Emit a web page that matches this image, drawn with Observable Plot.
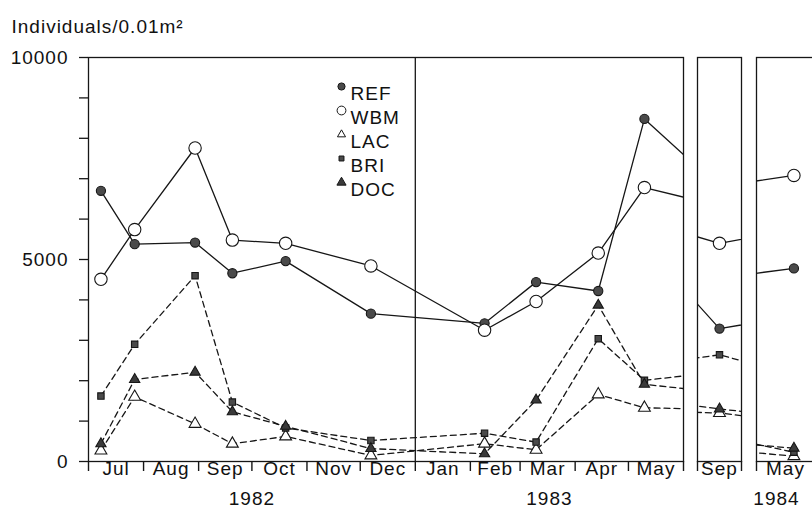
<!DOCTYPE html>
<html><head><meta charset="utf-8">
<script src="https://cdn.jsdelivr.net/npm/d3@7"></script>
<script src="https://cdn.jsdelivr.net/npm/@observablehq/plot@0.6"></script>
<style>
html,body{margin:0;padding:0;background:#fff;overflow:hidden;}
#chart{position:relative;width:812px;height:520px;overflow:hidden;background:#fff;}
#chart svg{position:absolute;top:0;overflow:visible;}
</style></head><body><div id="chart"></div>
<script>
// ---- data ----
const seriesNames = ["REF", "WBM", "LAC", "BRI", "DOC"];
const sampleDates = ["1982-07-08","1982-07-27","1982-08-30","1982-09-20","1982-10-20","1982-12-07",
                     "1983-02-09","1983-03-10","1983-04-14","1983-05-10","1983-09-16","1984-05-21"];
const refValues = [6700, 5380, 5420, 4660, 4960, 3660, 3420, 4440, 4220, 8480, 3290, 4780];
const wbmValues = [4510, 5740, 7760, 5480, 5400, 4840, 3250, 3960, 5160, 6780, 5400, 7080];
const lacValues = [270, 1600, 930, 440, 620, 150, 440, 290, 1660, 1330, 1200, 130];
const briValues = [1620, 2900, 4600, 1470, 830, 520, 700, 480, 3040, 2010, 2640, 230];
const docValues = [440, 2030, 2210, 1230, 870, 320, 190, 1520, 3870, 1910, 1300, 330];
const mainMonths = ["Jul","Aug","Sep","Oct","Nov","Dec","Jan","Feb","Mar","Apr","May"];
const sepMonths = ["Sep"];
const mayMonths = ["May"];
const yearLabels = ["1982", "1983", "1984"];
const yTickValues = [0,1000,2000,3000,4000,5000,6000,7000,8000,9000,10000];
const yTickLabels = ["0", "5000", "10000"];
const yTitle = "Individuals/0.01m²";

// ---- build ----
const valuesBySeries = {REF: refValues, WBM: wbmValues, LAC: lacValues, BRI: briValues, DOC: docValues};
const rows = [];
for (const s of seriesNames) valuesBySeries[s].forEach((v, i) => rows.push({series: s, date: new Date(sampleDates[i]), value: v}));

const INK = "#161616";
const styles = {
  REF: {symbol: "circle", fill: "#4a4a4a", r: 4.6, lr: 3.6, dash: null},
  WBM: {symbol: "circle", fill: "white", r: 6.2, lr: 4.4, dash: null},
  LAC: {symbol: "triangle", fill: "white", r: 4.4, lr: 3.0, dash: "6,4"},
  BRI: {symbol: "square", fill: "#4a4a4a", r: 3.6, lr: 2.8, dash: "6,4"},
  DOC: {symbol: "triangle", fill: "#3a3a3a", r: 3.8, lr: 3.4, dash: "6,4"}
};
const FONT = "'Liberation Sans', Arial, Helvetica, sans-serif";
const FS = 19;
const H = 520, MT = 57, MB = 59, FRAME_H = H - MT - MB;

const utc = (y, m, d = 1) => new Date(Date.UTC(y, m, d));
const mid = (a, b) => new Date((+a + +b) / 2);

function panel({left, mL, mR, plotW, start, end, months, years = [], yAxis, extra = []}) {
  const monthStarts = d3.utcMonth.range(start, d3.utcDay.offset(end, 1));
  const monthMids = monthStarts.slice(0, -1).map((d, i) => mid(d, monthStarts[i + 1]));
  const marks = [Plot.frame({stroke: INK, strokeWidth: 1.3})];
  marks.push(...extra);
  for (const s of seriesNames) {
    marks.push(Plot.line(rows.filter(d => d.series === s), {
      x: "date", y: "value", stroke: INK, strokeWidth: 1.3,
      strokeDasharray: styles[s].dash, clip: true
    }));
  }
  for (const s of seriesNames) {
    const st = styles[s];
    marks.push(Plot.dot(rows.filter(d => d.series === s), {
      x: "date", y: "value", symbol: st.symbol, r: st.r, fill: st.fill,
      stroke: INK, strokeWidth: 1.1, clip: true
    }));
  }
  // month boundary ticks below the frame
  marks.push(Plot.ruleX(monthStarts, {x: d => d, stroke: INK, strokeWidth: 1.4, insetTop: FRAME_H, insetBottom: -10}));
  // month labels
  marks.push(Plot.text(months, {x: (d, i) => monthMids[i], frameAnchor: "bottom", dy: 13, fontSize: FS, fill: "#111"}));
  for (const yr of years) {
    marks.push(Plot.text([yr.label], {x: () => yr.at, frameAnchor: "bottom", dx: yr.dx || 0, dy: 43, fontSize: FS, fill: "#111"}));
  }
  if (yAxis) {
    marks.push(Plot.ruleY(yTickValues, {y: d => d, stroke: INK, strokeWidth: 1.3, insetLeft: -9, insetRight: plotW}));
    marks.push(Plot.text(yTickLabels, {y: d => +d, frameAnchor: "left", dx: -20, textAnchor: "end", fontSize: FS, fill: "#111"}));
  }
  const svg = Plot.plot({
    width: mL + plotW + mR, height: H,
    marginLeft: mL, marginRight: mR, marginTop: MT, marginBottom: MB,
    style: {fontFamily: FONT, fontSize: FS + "px", background: "transparent", color: INK, letterSpacing: "1px"},
    x: {type: "utc", domain: [start, end], axis: null},
    y: {domain: [0, 10000], axis: null},
    marks
  });
  svg.style.left = left + "px";
  return svg;
}

const chart = document.getElementById("chart");

// legend, title and year divider inside the main panel (offsets from the frame corner)
const extraMain = [];
seriesNames.forEach((s, i) => {
  const st = styles[s];
  extraMain.push(Plot.dot([s], {frameAnchor: "top-left", dx: 253, dy: 29 + i * 24,
    symbol: st.symbol, r: st.lr, fill: st.fill, stroke: INK, strokeWidth: 1}));
  extraMain.push(Plot.text([s], {frameAnchor: "top-left", dx: 262, dy: 29 + i * 24,
    textAnchor: "start", fontSize: FS, fill: "#111"}));
});
extraMain.push(Plot.text([yTitle], {frameAnchor: "top-left", dx: -77, dy: -38, textAnchor: "start", fontSize: 19, fill: "#111"}));
extraMain.push(Plot.ruleX([utc(1983, 0)], {x: d => d, stroke: INK, strokeWidth: 1.3}));

chart.append(panel({
  left: 0, mL: 88, mR: 8, plotW: 595,
  start: utc(1982, 6), end: utc(1983, 5),
  months: mainMonths, yAxis: true, extra: extraMain,
  years: [
    {label: yearLabels[0], at: mid(utc(1982, 6), utc(1983, 0))},
    {label: yearLabels[1], at: mid(utc(1983, 0), utc(1983, 5))}
  ]
}));
chart.append(panel({
  left: 693, mL: 4, mR: 4, plotW: 44,
  start: utc(1983, 8), end: utc(1983, 9),
  months: sepMonths
}));
chart.append(panel({
  left: 752, mL: 4, mR: 4, plotW: 58,
  start: utc(1984, 4), end: utc(1984, 5),
  months: mayMonths,
  years: [{label: yearLabels[2], at: mid(utc(1984, 4), utc(1984, 5)), dx: -9}]
}));
</script></body></html>
